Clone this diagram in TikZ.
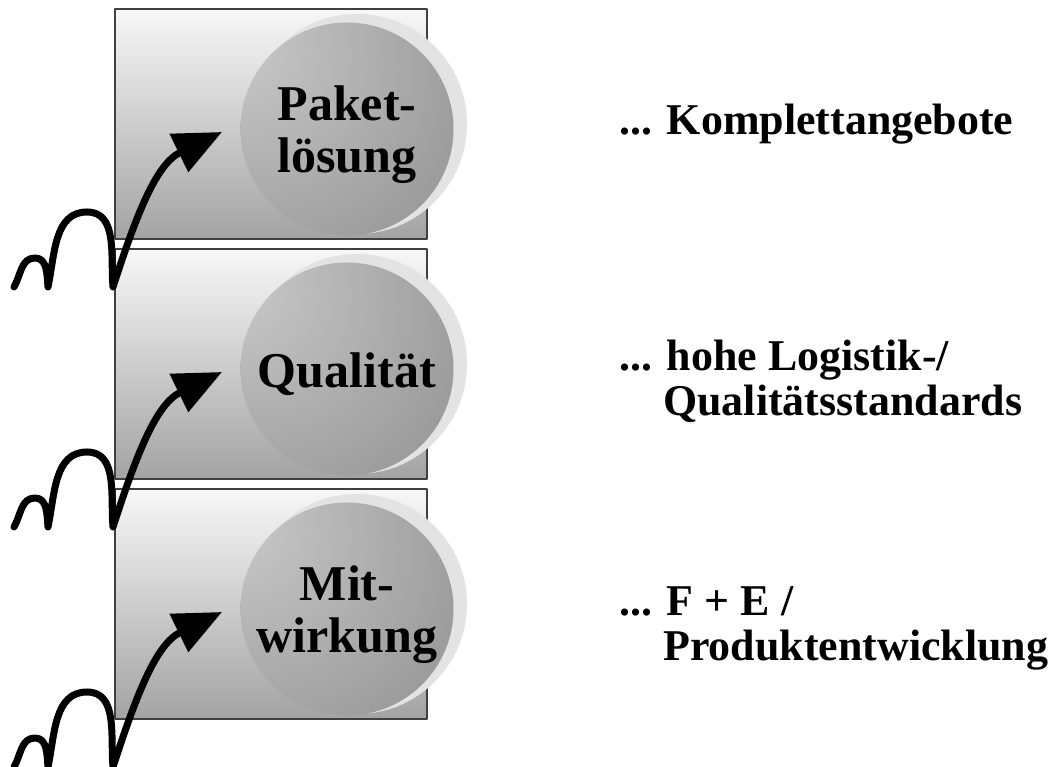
\documentclass[tikz,border=0pt]{standalone}
\usepackage{fontspec}
\setmainfont{Liberation Serif}
\usetikzlibrary{arrows.meta}

\definecolor{boxtop}{gray}{0.97}
\definecolor{boxbot}{gray}{0.64}
\definecolor{halogray}{gray}{0.89}
\definecolor{ballA}{gray}{0.86}
\definecolor{ballB}{gray}{0.77}
\definecolor{ballC}{gray}{0.67}
\definecolor{ballD}{gray}{0.56}
\definecolor{ballE}{gray}{0.46}
\definecolor{ballF}{gray}{0.38}
\pgfdeclareradialshading{ballshade}{\pgfpoint{-29bp}{22bp}}{color(0bp)=(ballA); color(6bp)=(ballB); color(30bp)=(ballC); color(55bp)=(ballD); color(75bp)=(ballE); color(90bp)=(ballF)}

\begin{document}
\begin{tikzpicture}[line cap=round, line join=round,
  stepbox/.style={draw=black!75, line width=0.8pt, top color=boxtop, bottom color=boxbot},
  balltext/.style={font=\fontsize{28.5}{29.6}\selectfont\bfseries, align=center, inner sep=0pt},
  sidetext/.style={font=\fontsize{25}{26}\selectfont\bfseries, align=left, inner sep=0pt, anchor=base west},
  hop/.style={line width=0.14cm, -{Triangle[length=0.96cm,width=0.82cm]}}]

\useasboundingbox (0,0) rectangle (21.14,15.34);

% Paketloesung
\draw[stepbox] (2.30,10.56) rectangle (8.54,15.16);
\fill[halogray] (7.14,12.86) circle (2.2);
\shade[shading=ballshade] (6.94,12.76) circle (2.13);
\node[balltext] (ball1) at (6.94,12.65) {Paket-\\lösung};
\node[sidetext] (side1) at (12.38,12.64) {... Komplettangebote};

% Qualitaet
\draw[stepbox] (2.30,5.76) rectangle (8.54,10.36);
\fill[halogray] (7.14,8.06) circle (2.2);
\shade[shading=ballshade] (6.94,7.96) circle (2.13);
\node[balltext] (ball2) at (6.94,7.86) {Qualität};
\node[sidetext] (side2) at (12.38,7.02) {... hohe Logistik-/\\\phantom{...\ }Qualitätsstandards};

% Mitwirkung
\draw[stepbox] (2.30,0.96) rectangle (8.54,5.56);
\fill[halogray] (7.14,3.26) circle (2.2);
\shade[shading=ballshade] (6.94,3.16) circle (2.13);
\node[balltext] (ball3) at (6.94,3.05) {Mit-\\wirkung};
\node[sidetext] (side3) at (12.38,2.12) {... F + E /\\\phantom{...\ }Produktentwicklung};

% hopping arrows
\coordinate (s1) at (0.28,9.60);  \coordinate (t1) at (0.70,10.18);
\coordinate (c1) at (0.96,9.60);  \coordinate (u1) at (1.74,11.10);
\coordinate (v1) at (2.26,9.60);  \coordinate (a1) at (4.44,12.70);
\draw[hop] (s1) to[out=60,in=180] (t1) to[out=0,in=95] (c1)
  to[out=78,in=180] (u1) to[out=0,in=95] (v1) to[out=72,in=206] (a1);

\coordinate (s2) at (0.28,4.80);  \coordinate (t2) at (0.70,5.38);
\coordinate (c2) at (0.96,4.80);  \coordinate (u2) at (1.74,6.30);
\coordinate (v2) at (2.26,4.80);  \coordinate (a2) at (4.44,7.90);
\draw[hop] (s2) to[out=60,in=180] (t2) to[out=0,in=95] (c2)
  to[out=78,in=180] (u2) to[out=0,in=95] (v2) to[out=72,in=206] (a2);

\coordinate (s3) at (0.28,0.00);  \coordinate (t3) at (0.70,0.58);
\coordinate (c3) at (0.96,0.00);  \coordinate (u3) at (1.74,1.50);
\coordinate (v3) at (2.26,0.00);  \coordinate (a3) at (4.44,3.10);
\draw[hop] (s3) to[out=60,in=180] (t3) to[out=0,in=95] (c3)
  to[out=78,in=180] (u3) to[out=0,in=95] (v3) to[out=72,in=206] (a3);

\end{tikzpicture}
\end{document}
